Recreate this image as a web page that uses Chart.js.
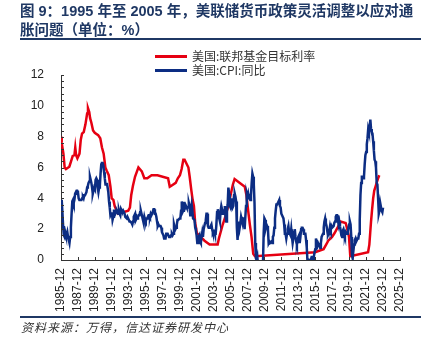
<!DOCTYPE html>
<html>
<head>
<meta charset="utf-8">
<script src="https://cdn.jsdelivr.net/npm/chart.js@4.4.1/dist/chart.umd.min.js"></script>
<style>
  body { margin: 0; background: #fff; }
  #wrap { position: relative; width: 425px; height: 347px; overflow: hidden; font-family: "Liberation Sans", "Noto Sans CJK SC", sans-serif; }
  #chart { position: absolute; left: 0; top: 0; }
  .title { position: absolute; left: 20px; font-weight: bold; color: #1f3864; font-size: 14.5px; line-height: 20px; white-space: nowrap; }
  .rule { position: absolute; left: 20px; width: 401px; background: #1f3864; }
  .legend { position: absolute; left: 155px; font-family: "Noto Sans CJK SC", sans-serif; font-size: 12px; color: #333; white-space: nowrap; }
  .legend span.sw { display: inline-block; width: 32px; height: 3px; vertical-align: middle; margin-right: 5px; position: relative; top: -1px; }
  .source { position: absolute; left: 21px; top: 318px; font-family: "Noto Sans CJK SC", sans-serif; font-size: 12px; font-style: italic; color: #333; letter-spacing: 1px; white-space: nowrap; }
</style>
</head>
<body>
<div id="wrap">
  <canvas id="chart" width="425" height="347"></canvas>
  <div class="title" style="top:1px">图 9：1995 年至 2005 年，美联储货币政策灵活调整以应对通</div>
  <div class="title" style="top:20px">胀问题（单位：%）</div>
  <div class="rule" style="top:38px;height:2px"></div>
  <div class="legend" style="top:47px"><span class="sw" style="background:#e60012"></span>美国:联邦基金目标利率</div>
  <div class="legend" style="top:61px"><span class="sw" style="background:#0c2d83"></span>美国:CPI:同比</div>
  <div class="rule" style="top:316px;height:1.5px"></div>
  <div class="source">资料来源：万得，信达证券研发中心</div>
</div>
<script>
// x tick labels (every two years, December)
const tickLabels = ['1985-12', '1987-12', '1989-12', '1991-12', '1993-12', '1995-12', '1997-12',
  '1999-12', '2001-12', '2003-12', '2005-12', '2007-12', '2009-12', '2011-12', '2013-12',
  '2015-12', '2017-12', '2019-12', '2021-12', '2023-12', '2025-12'];

// 美国:联邦基金目标利率 — dates (decimal years) and values
const fedDates = [1985.92, 1986.0, 1986.1, 1986.2, 1986.35, 1986.5, 1986.9, 1987.1, 1987.3, 1987.5,
  1987.6, 1987.7, 1987.85, 1988.1, 1988.25, 1988.4, 1988.6, 1988.8, 1989.0, 1989.1,
  1989.25, 1989.35, 1989.5, 1989.7, 1989.9, 1990.3, 1990.55, 1990.75, 1990.95, 1991.15,
  1991.3, 1991.55, 1991.75, 1991.9, 1992.1, 1992.25, 1992.45, 1992.65, 1993.85, 1994.05,
  1994.2, 1994.4, 1994.65, 1994.85, 1995.05, 1995.45, 1995.75, 1996.1, 1996.6, 1997.3,
  1998.55, 1998.75, 1998.9, 1999.45, 1999.7, 1999.95, 2000.15, 2000.35, 2000.5, 2000.95,
  2001.1, 2001.3, 2001.45, 2001.6, 2001.75, 2001.95, 2002.85, 2003.45, 2004.4, 2004.55,
  2004.8, 2005.0, 2005.3, 2005.55, 2005.8, 2006.0, 2006.2, 2006.4, 2007.6, 2007.8,
  2008.0, 2008.2, 2008.4, 2008.6, 2008.8, 2015.9, 2016.9, 2017.2, 2017.45, 2017.9,
  2018.2, 2018.45, 2018.7, 2018.9, 2019.5, 2019.65, 2019.8, 2019.9, 2020.05, 2022.15,
  2022.3, 2022.4, 2022.5, 2022.62, 2022.75, 2022.88, 2023.02, 2023.16, 2023.3, 2023.47];
const fedRate = [8.0, 7.6, 7.25, 6.9, 6.0, 5.9, 6.05, 6.4, 6.75, 6.8,
  7.3, 6.8, 6.6, 6.9, 7.8, 8.2, 8.3, 8.8, 9.5, 9.85,
  9.6, 9.2, 8.9, 8.4, 8.25, 8.1, 7.9, 7.3, 6.9, 6.0,
  5.8, 5.5, 4.75, 4.0, 3.9, 3.5, 3.25, 3.0, 3.2, 3.4,
  4.2, 4.8, 5.4, 5.7, 6.0, 5.75, 5.3, 5.3, 5.5, 5.5,
  5.3, 4.75, 4.8, 5.0, 5.3, 5.5, 5.9, 6.5, 6.5, 6.0,
  5.4, 4.5, 3.9, 3.5, 2.4, 1.75, 1.25, 1.0, 1.0, 1.4,
  1.9, 2.3, 2.8, 3.3, 3.9, 4.4, 4.9, 5.25, 4.75, 4.2,
  3.2, 2.3, 1.5, 0.4, 0.25, 0.5, 0.7, 1.0, 1.25, 1.5,
  1.75, 2.0, 2.25, 2.5, 2.4, 2.1, 1.75, 1.5, 0.25, 0.5,
  1.0, 1.75, 2.5, 3.25, 4.0, 4.5, 4.75, 5.0, 5.25, 5.5];

// 美国:CPI:同比 — monthly, starting 1985-12
const cpiStart = 1985 + 11 / 12;
const cpiValues = [3.8,
  3.9, 3.1, 2.2, 1.6, 1.5, 1.8, 1.6, 1.6, 1.8, 1.5, 1.3, 1.1,
  1.5, 2.1, 3.0, 3.8, 3.9, 3.7, 3.9, 4.3, 4.4, 4.5, 4.5, 4.4,
  4.0, 3.9, 3.9, 3.9, 3.9, 4.0, 4.1, 4.0, 4.2, 4.2, 4.2, 4.4,
  4.7, 4.8, 5.0, 5.1, 5.4, 5.2, 5.0, 4.7, 4.3, 4.5, 4.7, 4.6,
  5.2, 5.3, 5.2, 4.7, 4.4, 4.7, 4.8, 5.6, 6.2, 6.3, 6.3, 6.1,
  5.7, 5.3, 4.9, 4.9, 5.0, 4.7, 4.4, 3.8, 3.4, 2.9, 3.0, 3.1,
  2.6, 2.8, 3.2, 3.2, 3.0, 3.1, 3.2, 3.1, 3.0, 3.2, 3.0, 2.9,
  3.3, 3.2, 3.1, 3.2, 3.2, 3.0, 2.8, 2.8, 2.7, 2.8, 2.7, 2.7,
  2.5, 2.5, 2.5, 2.4, 2.3, 2.5, 2.8, 2.9, 3.0, 2.6, 2.7, 2.7,
  2.8, 2.9, 2.9, 3.1, 3.2, 3.0, 2.8, 2.6, 2.5, 2.8, 2.6, 2.5,
  2.7, 2.7, 2.8, 2.9, 2.9, 2.8, 3.0, 2.9, 3.0, 3.0, 3.3, 3.3,
  3.0, 3.0, 2.8, 2.5, 2.2, 2.3, 2.2, 2.2, 2.2, 2.1, 1.8, 1.7,
  1.6, 1.4, 1.4, 1.4, 1.7, 1.7, 1.7, 1.6, 1.5, 1.5, 1.5, 1.6,
  1.7, 1.6, 1.7, 2.3, 2.1, 2.0, 2.1, 2.3, 2.6, 2.6, 2.6, 2.7,
  2.7, 3.2, 3.8, 3.1, 3.2, 3.7, 3.7, 3.4, 3.5, 3.4, 3.4, 3.4,
  3.7, 3.5, 2.9, 3.3, 3.6, 3.2, 2.7, 2.7, 2.6, 2.1, 1.9, 1.6,
  1.1, 1.1, 1.5, 1.6, 1.2, 1.1, 1.5, 1.8, 1.5, 2.0, 2.2, 2.4,
  2.6, 3.0, 3.0, 2.2, 2.1, 2.1, 2.1, 2.2, 2.3, 2.0, 1.8, 1.9,
  1.9, 1.7, 1.7, 2.3, 3.1, 3.3, 3.0, 2.7, 2.5, 3.2, 3.5, 3.3,
  3.0, 3.0, 3.1, 3.5, 2.8, 2.5, 3.2, 3.6, 4.7, 4.3, 3.5, 3.4,
  4.0, 3.6, 3.4, 3.5, 4.2, 4.3, 4.1, 3.8, 2.1, 1.3, 2.0, 2.5,
  2.1, 2.4, 2.8, 2.6, 2.7, 2.7, 2.4, 2.0, 2.8, 3.5, 4.3, 4.1,
  4.3, 4.0, 4.0, 3.9, 4.2, 5.0, 5.6, 5.4, 4.9, 3.7, 1.1, 0.1,
  0.0, 0.2, -0.4, -0.7, -1.3, -1.4, -2.1, -1.5, -1.3, -0.2, 1.8, 2.7,
  2.6, 2.1, 2.3, 2.2, 2.0, 1.1, 1.2, 1.1, 1.1, 1.2, 1.1, 1.5,
  1.6, 2.1, 2.7, 3.2, 3.6, 3.6, 3.6, 3.8, 3.9, 3.5, 3.4, 3.0,
  2.9, 2.9, 2.7, 2.3, 1.7, 1.7, 1.4, 1.7, 2.0, 2.2, 1.8, 1.7,
  1.6, 2.0, 1.5, 1.1, 1.4, 1.8, 2.0, 1.5, 1.2, 1.0, 1.2, 1.5,
  1.6, 1.1, 1.5, 2.0, 2.1, 2.1, 2.0, 1.7, 1.7, 1.7, 1.3, 0.8,
  -0.1, 0.0, -0.1, -0.2, 0.0, 0.1, 0.2, 0.2, 0.0, 0.2, 0.5, 0.7,
  1.4, 1.0, 0.9, 1.1, 1.0, 1.0, 0.8, 1.1, 1.5, 1.6, 1.7, 2.1,
  2.5, 2.7, 2.4, 2.2, 1.9, 1.6, 1.7, 1.9, 2.2, 2.0, 2.2, 2.1,
  2.1, 2.2, 2.4, 2.5, 2.8, 2.9, 2.9, 2.7, 2.3, 2.5, 2.2, 1.9,
  1.6, 1.5, 1.9, 2.0, 1.8, 1.6, 1.8, 1.7, 1.7, 1.8, 2.1, 2.3,
  2.5, 2.3, 1.5, 0.3, 0.1, 0.6, 1.0, 1.3, 1.4, 1.2, 1.2, 1.4,
  1.4, 1.7, 2.6, 4.2, 5.0, 5.4, 5.4, 5.3, 5.4, 6.2, 6.8, 7.0,
  7.5, 7.9, 8.5, 8.3, 8.6, 9.1, 8.5, 8.3, 8.2, 7.7, 7.1, 6.5,
  6.4, 6.0, 5.0, 4.9, 4.0, 3.0, 3.2, 3.7, 3.7, 3.2, 3.1, 3.4];

const tickPos = tickLabels.map(l => parseInt(l) + 11 / 12);
const fedPoints = fedDates.map((d, i) => ({ x: d, y: fedRate[i] }));
const cpiPoints = cpiValues.map((v, i) => ({ x: cpiStart + i / 12, y: v }));

const axisColor = '#333';

// ticks drawn inward, like the original
const innerTicks = {
  id: 'innerTicks',
  afterDatasetsDraw(chart) {
    const { ctx, chartArea, scales: { x, y } } = chart;
    ctx.save();
    ctx.strokeStyle = axisColor;
    ctx.lineWidth = 1;
    ctx.beginPath();
    tickPos.forEach(v => {
      const px = Math.round(x.getPixelForValue(v)) + 0.5;
      ctx.moveTo(px, chartArea.bottom);
      ctx.lineTo(px, chartArea.bottom - 3);
    });
    for (let k = 0; k <= 30; k++) {
      const py = Math.round(y.getPixelForValue(k * 0.4)) + 0.5;
      ctx.moveTo(chartArea.left, py);
      ctx.lineTo(chartArea.left + 3, py);
    }
    ctx.stroke();
    ctx.restore();
  }
};

new Chart(document.getElementById('chart'), {
  type: 'line',
  data: {
    datasets: [
      { label: '美国:联邦基金目标利率', data: fedPoints, borderColor: '#e60012', borderWidth: 2.5, pointRadius: 0, tension: 0, order: 1 },
      { label: '美国:CPI:同比', data: cpiPoints, borderColor: '#0c2d83', borderWidth: 2.5, pointRadius: 0, tension: 0, order: 0 }
    ]
  },
  options: {
    responsive: false,
    animation: false,
    layout: { padding: { left: 0, top: 75, right: 25, bottom: 0 } },
    plugins: { legend: { display: false }, tooltip: { enabled: false } },
    scales: {
      x: {
        type: 'linear',
        min: tickPos[0],
        max: tickPos[tickPos.length - 1],
        afterBuildTicks: s => { s.ticks = tickPos.map(v => ({ value: v })); },
        afterFit: s => { s.height = 87; },
        grid: { display: true, drawOnChartArea: false, drawTicks: false },
        border: { display: true, color: axisColor, width: 1 },
        ticks: {
          autoSkip: false, minRotation: 90, maxRotation: 90, padding: 8,
          color: '#222', font: { family: 'Liberation Sans', size: 12 },
          callback: (v, i) => tickLabels[i]
        }
      },
      y: {
        min: 0, max: 12,
        afterFit: s => { s.width = 61; },
        grid: { display: true, drawOnChartArea: false, drawTicks: false },
        border: { display: true, color: axisColor, width: 1 },
        ticks: { stepSize: 2, padding: 17, color: '#222', font: { family: 'Liberation Sans', size: 12 } }
      }
    }
  },
  plugins: [innerTicks]
});
</script>
</body>
</html>
